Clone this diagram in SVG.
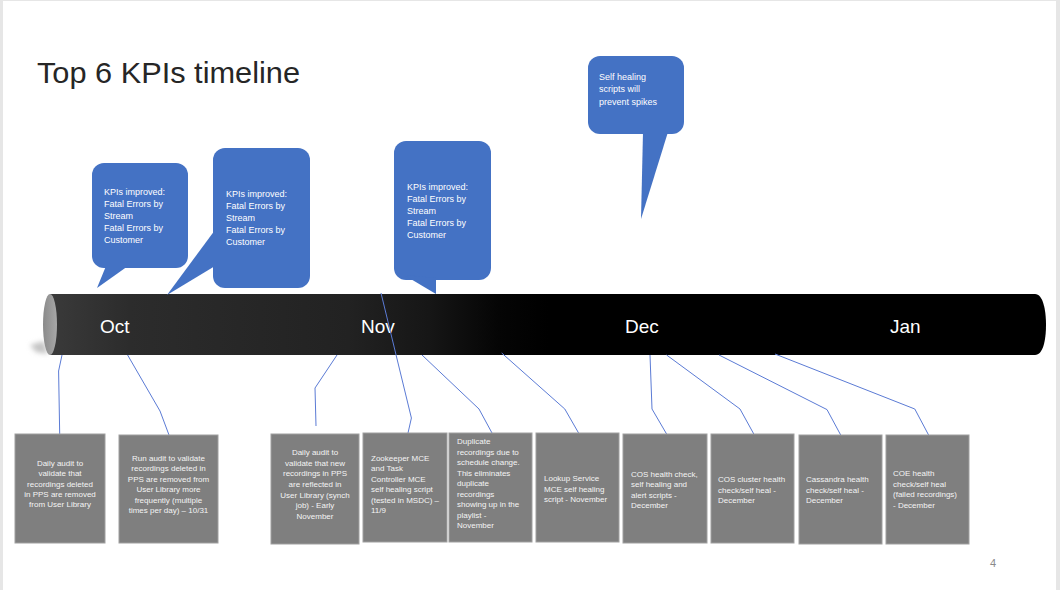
<svg xmlns="http://www.w3.org/2000/svg" width="1060" height="590" viewBox="0 0 1060 590">
<defs>
<linearGradient id="body" x1="50" y1="0" x2="1046" y2="0" gradientUnits="userSpaceOnUse">
<stop offset="0" stop-color="#3a3a3a"/>
<stop offset="0.08" stop-color="#2c2c2c"/>
<stop offset="0.3" stop-color="#222222"/>
<stop offset="0.38" stop-color="#161616"/>
<stop offset="0.45" stop-color="#050505"/>
<stop offset="0.5" stop-color="#000000"/>
<stop offset="1" stop-color="#000000"/>
</linearGradient>
<linearGradient id="cap" x1="0" y1="0" x2="1" y2="0">
<stop offset="0" stop-color="#8a8a8a"/>
<stop offset="1" stop-color="#a8a8a8"/>
</linearGradient>
<filter id="blur" x="-50%" y="-50%" width="200%" height="200%"><feGaussianBlur stdDeviation="2.5"/></filter>
<style>
.co{fill:#4472C4;}
.ct{font-family:"Liberation Sans",Arial,sans-serif;font-size:9px;fill:#ffffff;}
.bx{fill:#7f7f7f;stroke:#a0a0a0;stroke-width:1;}
.bt{font-family:"Liberation Sans",Arial,sans-serif;font-size:8px;fill:#f4f4f4;}
.mid{text-anchor:middle;}
.mo{font-family:"Liberation Sans",Arial,sans-serif;font-size:19px;fill:#ffffff;}
.cn{fill:none;stroke:#5b7bd5;stroke-width:1;}
</style>
</defs>
<rect x="0" y="0" width="1060" height="590" fill="#e6e6e6"/>
<rect x="3" y="1" width="1053" height="589" fill="#ffffff"/>
<text x="37" y="83" font-family="'Liberation Sans',Arial,sans-serif" font-size="30" fill="#262626" textLength="263" lengthAdjust="spacingAndGlyphs">Top 6 KPIs timeline</text>
<text x="993" y="567" font-family="'Liberation Sans',Arial,sans-serif" font-size="11" fill="#8a8a8a" text-anchor="middle">4</text>

<g id="timeline">
<polygon points="30,345 44,341 48,354 36,352" fill="#c4c4c4" filter="url(#blur)"/>
<path d="M50,294 H1035 C1043,294 1046,310 1046,325 C1046,340 1043,355 1035,355 H50 Z" fill="url(#body)"/>
<ellipse cx="50" cy="324.5" rx="7" ry="30.5" fill="url(#cap)"/>
<text class="mo" x="100" y="333">Oct</text>
<text class="mo" x="361" y="333">Nov</text>
<text class="mo" x="625" y="333">Dec</text>
<text class="mo" x="890" y="333">Jan</text>
</g>

<g id="connectors">
<polyline class="cn" points="62,355 58.6,371 59.7,434"/>
<polyline class="cn" points="127.6,355 160,411 169,435"/>
<polyline class="cn" points="337,355 315,388 316,426"/>
<polyline class="cn" points="381,293 411.4,418 408,433"/>
<polyline class="cn" points="422,355 479,409 492,433"/>
<polyline class="cn" points="501.7,353 564.8,409 578.6,433"/>
<polyline class="cn" points="650,355 652,409 666.6,434"/>
<polyline class="cn" points="666.6,355 740,409 753.8,434"/>
<polyline class="cn" points="719,355 827,409.6 840.7,435"/>
<polyline class="cn" points="775,354 914.8,409 928.6,435"/>
</g>

<g id="callout1">
<rect class="co" x="92" y="163" width="96" height="105" rx="12"/>
<polygon class="co" points="106,266 97,288 128,266"/>
<text class="ct" x="104" y="195">KPIs improved:</text>
<text class="ct" x="104" y="207">Fatal Errors by</text>
<text class="ct" x="104" y="219">Stream</text>
<text class="ct" x="104" y="231">Fatal Errors by</text>
<text class="ct" x="104" y="243">Customer</text>
</g>
<g id="callout2">
<rect class="co" x="213" y="148" width="97" height="140" rx="12"/>
<polygon class="co" points="215,230 167,295 215,266"/>
<text class="ct" x="226" y="197">KPIs improved:</text>
<text class="ct" x="226" y="209">Fatal Errors by</text>
<text class="ct" x="226" y="221">Stream</text>
<text class="ct" x="226" y="233">Fatal Errors by</text>
<text class="ct" x="226" y="245">Customer</text>
</g>
<g id="callout3">
<rect class="co" x="394" y="141" width="97" height="139" rx="12"/>
<polygon class="co" points="404,275 436,294 436,278"/>
<text class="ct" x="407" y="190">KPIs improved:</text>
<text class="ct" x="407" y="202">Fatal Errors by</text>
<text class="ct" x="407" y="214">Stream</text>
<text class="ct" x="407" y="226">Fatal Errors by</text>
<text class="ct" x="407" y="238">Customer</text>
</g>
<g id="callout4">
<rect class="co" x="588" y="56" width="96" height="78" rx="12"/>
<polygon class="co" points="643,132 641,219 668,132"/>
<text class="ct" x="599" y="80">Self healing</text>
<text class="ct" x="599" y="92">scripts will</text>
<text class="ct" x="599" y="105">prevent spikes</text>
</g>

<g id="box1">
<rect class="bx" x="15" y="434" width="90" height="109"/>
<text class="bt mid" x="60" y="466">Daily audit to</text>
<text class="bt mid" x="60" y="476.3">validate that</text>
<text class="bt mid" x="60" y="486.6">recordings deleted</text>
<text class="bt mid" x="60" y="496.9">in PPS are removed</text>
<text class="bt mid" x="60" y="507.2">from User Library</text>
</g>
<g id="box2">
<rect class="bx" x="119" y="435" width="99" height="108"/>
<text class="bt mid" x="168.5" y="461">Run audit to validate</text>
<text class="bt mid" x="168.5" y="471.4">recordings deleted in</text>
<text class="bt mid" x="168.5" y="481.8">PPS are removed from</text>
<text class="bt mid" x="168.5" y="492.2">User Library more</text>
<text class="bt mid" x="168.5" y="502.6">frequently (multiple</text>
<text class="bt mid" x="168.5" y="513">times per day) – 10/31</text>
</g>
<g id="box3">
<rect class="bx" x="271" y="434" width="88" height="110"/>
<text class="bt mid" x="315" y="455">Daily audit to</text>
<text class="bt mid" x="315" y="465.7">validate that new</text>
<text class="bt mid" x="315" y="476.3">recordings in PPS</text>
<text class="bt mid" x="315" y="487">are reflected in</text>
<text class="bt mid" x="315" y="497.7">User Library (synch</text>
<text class="bt mid" x="315" y="508.3">job) - Early</text>
<text class="bt mid" x="315" y="519">November</text>
</g>
<g id="box4">
<rect class="bx" x="363" y="433" width="84" height="109"/>
<text class="bt" x="371" y="461">Zookeeper MCE</text>
<text class="bt" x="371" y="471.4">and Task</text>
<text class="bt" x="371" y="481.8">Controller MCE</text>
<text class="bt" x="371" y="492.2">self healing script</text>
<text class="bt" x="371" y="502.6">(tested in MSDC) –</text>
<text class="bt" x="371" y="513">11/9</text>
</g>
<g id="box5">
<rect class="bx" x="449" y="433" width="83" height="109"/>
<text class="bt" x="457" y="444">Duplicate</text>
<text class="bt" x="457" y="454.5">recordings due to</text>
<text class="bt" x="457" y="465">schedule change.</text>
<text class="bt" x="457" y="475.5">This eliminates</text>
<text class="bt" x="457" y="486">duplicate</text>
<text class="bt" x="457" y="496.5">recordings</text>
<text class="bt" x="457" y="507">showing up in the</text>
<text class="bt" x="457" y="517.5">playlist -</text>
<text class="bt" x="457" y="528">November</text>
</g>
<g id="box6">
<rect class="bx" x="536" y="433" width="83" height="109"/>
<text class="bt" x="544" y="481">Lookup Service</text>
<text class="bt" x="544" y="491.5">MCE self healing</text>
<text class="bt" x="544" y="502">script - November</text>
</g>
<g id="box7">
<rect class="bx" x="623" y="434" width="84" height="109"/>
<text class="bt" x="631" y="477">COS health check,</text>
<text class="bt" x="631" y="487.3">self healing and</text>
<text class="bt" x="631" y="497.7">alert scripts -</text>
<text class="bt" x="631" y="508">December</text>
</g>
<g id="box8">
<rect class="bx" x="711" y="434" width="83" height="109"/>
<text class="bt" x="718" y="482">COS cluster health</text>
<text class="bt" x="718" y="492.5">check/self heal -</text>
<text class="bt" x="718" y="503">December</text>
</g>
<g id="box9">
<rect class="bx" x="799" y="435" width="83" height="109"/>
<text class="bt" x="806" y="482">Cassandra health</text>
<text class="bt" x="806" y="492.5">check/self heal -</text>
<text class="bt" x="806" y="503">December</text>
</g>
<g id="box10">
<rect class="bx" x="886" y="435" width="83" height="109"/>
<text class="bt" x="893" y="476">COE health</text>
<text class="bt" x="893" y="486.7">check/self heal</text>
<text class="bt" x="893" y="497.3">(failed recordings)</text>
<text class="bt" x="893" y="508">- December</text>
</g>
</svg>
